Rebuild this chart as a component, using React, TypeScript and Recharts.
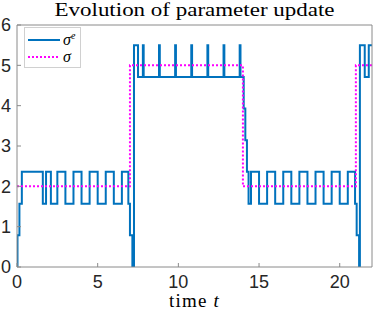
import { LineChart, Line, XAxis, YAxis, Legend, Label } from "recharts";

// estimated parameter (quantised in steps of ~pi/4)
const estTime = [
  0, 0.03, 0.15, 0.3, 1.6, 1.8, 2.1, 2.5, 3, 3.5, 4, 4.5, 5, 5.5, 6, 6.5, 6.9, 7, 7.15,
  7.25, 7.5, 7.8, 7.85, 8.8, 8.85, 9.8, 9.85, 10.8, 10.85, 11.8, 11.85, 12.8, 12.85, 13.8, 13.85,
  14.05, 14.15, 14.25, 14.35, 14.5, 15, 15.5, 16, 16.5, 17, 17.5, 18, 18.5, 19, 19.5, 20, 20.5,
  20.95, 21.05, 21.2, 21.25, 21.55, 21.8, 22,
];
const estValue = [
  0, 0.79, 1.57, 2.36, 1.57, 2.36, 1.57, 2.36, 1.57, 2.36, 1.57, 2.36, 1.57, 2.36, 1.57, 2.36, 1.57, 0.79, 0,
  5.5, 4.71, 5.5, 4.71, 5.5, 4.71, 5.5, 4.71, 5.5, 4.71, 5.5, 4.71, 5.5, 4.71, 5.5, 4.71,
  3.93, 3.14, 2.36, 1.57, 2.36, 1.57, 2.36, 1.57, 2.36, 1.57, 2.36, 1.57, 2.36, 1.57, 2.36, 1.57, 2.36,
  1.57, 0.79, 0, 5.5, 4.71, 5.5, 5.5,
];

// true parameter
const refTime = [0, 7, 14, 21, 22];
const refValue = [2, 5, 2, 5, 5];

const xTicks = [0, 5, 10, 15, 20];
const yTicks = [0, 1, 2, 3, 4, 5, 6];

const estData = estTime.map((t, i) => ({ t, v: estValue[i] }));
const refData = refTime.map((t, i) => ({ t, v: refValue[i] }));

const BLUE = "#0072BD";
const MAGENTA = "#FF00FF";
const AXIS = "#8a8a8a";
const INK = "#262626";
const SERIF = "'Liberation Serif', 'DejaVu Serif', serif";
const SANS = "'Liberation Sans', Arial, sans-serif";

function Title({ viewBox }: any) {
  const cx = viewBox.x + viewBox.width / 2;
  return (
    <text x={cx} y={16} textAnchor="middle" fontFamily={SERIF} fontSize={18} fill="#000"
      textLength={280} lengthAdjust="spacingAndGlyphs">
      Evolution of parameter update
    </text>
  );
}

function XName({ viewBox }: any) {
  const cx = viewBox.x + viewBox.width / 2;
  return (
    <text x={cx} y={viewBox.y + 40} textAnchor="middle" fontFamily={SERIF} fontSize={19} fill="#000"
      letterSpacing={1.2}>
      time <tspan fontStyle="italic">t</tspan>
    </text>
  );
}

function LegendBox() {
  const row = { display: "flex", alignItems: "center", height: 17 };
  return (
    <div style={{ background: "#fff", border: "1px solid #d0d0d0", width: 57, height: 41, padding: "3px 0 0 3px", boxSizing: "border-box" }}>
      <div style={row}>
        <svg width={33} height={6}><line x1={0} x2={32} y1={3} y2={3} stroke={BLUE} strokeWidth={2} /></svg>
        <span style={{ fontFamily: SERIF, fontStyle: "italic", fontSize: 16, color: "#000", marginLeft: 2 }}>
          σ<sup style={{ fontSize: 10, fontStyle: "italic" }}>e</sup>
        </span>
      </div>
      <div style={row}>
        <svg width={33} height={6}><line x1={0} x2={32} y1={3} y2={3} stroke={MAGENTA} strokeWidth={2} strokeDasharray="2 2" /></svg>
        <span style={{ fontFamily: SERIF, fontStyle: "italic", fontSize: 16, color: "#000", marginLeft: 2 }}>σ</span>
      </div>
    </div>
  );
}

export default function App() {
  return (
    <div style={{ position: "absolute", left: 0, top: 0, width: 374, height: 312, background: "#fff" }}>
      <LineChart width={374} height={312} margin={{ top: 24, right: 1, bottom: 0, left: 0 }}>
        <XAxis dataKey="t" type="number" domain={[0, 22]} ticks={xTicks} height={45}
          allowDataOverflow stroke={AXIS} tickSize={-4} tickMargin={12}
          tick={{ fill: INK, fontSize: 18, fontFamily: SANS }}>
          <Label content={XName} />
        </XAxis>
        <XAxis xAxisId="top" orientation="top" dataKey="t" type="number" domain={[0, 22]} ticks={xTicks}
          height={1} allowDataOverflow stroke={AXIS} tickSize={-4} tick={false}>
          <Label content={Title} />
        </XAxis>
        <YAxis type="number" domain={[0, 6]} ticks={yTicks} width={17} allowDataOverflow
          stroke={AXIS} tickSize={-4} tickMargin={10}
          tick={{ fill: INK, fontSize: 18, fontFamily: SANS }} />
        <YAxis yAxisId="right" orientation="right" type="number" domain={[0, 6]} ticks={yTicks}
          width={1} allowDataOverflow stroke={AXIS} tickSize={-4} tick={false} />
        <Legend verticalAlign="middle" align="center" content={<LegendBox />}
          wrapperStyle={{ left: 24, top: 27, width: 57, height: 41 }} />
        <Line data={estData} dataKey="v" name="σe" type="stepAfter" stroke={BLUE} strokeWidth={2}
          dot={false} isAnimationActive={false} />
        <Line data={refData} dataKey="v" name="σ" type="stepAfter" stroke={MAGENTA} strokeWidth={2}
          strokeDasharray="2 2" dot={false} isAnimationActive={false} />
      </LineChart>
    </div>
  );
}
